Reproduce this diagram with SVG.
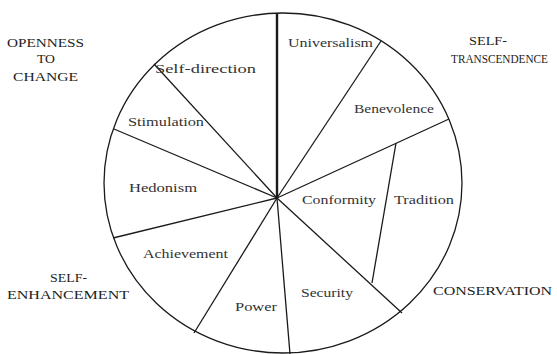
<svg xmlns="http://www.w3.org/2000/svg" width="557" height="354" viewBox="0 0 557 354">
<style>
.l{stroke:#1a1a1a;stroke-width:1.3;fill:none}
.t{font-family:'Liberation Serif','DejaVu Serif','Times New Roman',serif;font-size:13.5px;fill:#333}
.c{font-family:'Liberation Serif','DejaVu Serif','Times New Roman',serif;font-size:13px;fill:#222}
</style>
<rect width="557" height="354" fill="#fff"/>
<g id="circle"><ellipse cx="283" cy="183" rx="179" ry="170" class="l"/></g>
<g id="connectors">
<line x1="277" y1="198" x2="277" y2="13" stroke="#1a1a1a" stroke-width="2.4"/>
<line x1="277" y1="198" x2="381" y2="41" class="l"/>
<line x1="277" y1="198" x2="449" y2="119" class="l"/>
<line x1="396" y1="143" x2="372" y2="283" class="l"/>
<line x1="277" y1="198" x2="402" y2="313" class="l"/>
<line x1="277" y1="198" x2="290" y2="354" class="l"/>
<line x1="277" y1="198" x2="194" y2="333" class="l"/>
<line x1="277" y1="198" x2="113" y2="238" class="l"/>
<line x1="277" y1="198" x2="114" y2="129" class="l"/>
<line x1="277" y1="198" x2="154" y2="64" class="l"/>
</g>
<g id="universalism"><text class="t" x="288" y="47" textLength="85" lengthAdjust="spacingAndGlyphs">Universalism</text></g>
<g id="benevolence"><text class="t" x="354" y="113" textLength="80" lengthAdjust="spacingAndGlyphs">Benevolence</text></g>
<g id="tradition"><text class="t" x="394" y="204" textLength="60" lengthAdjust="spacingAndGlyphs">Tradition</text></g>
<g id="conformity"><text class="t" x="302" y="204" textLength="74" lengthAdjust="spacingAndGlyphs">Conformity</text></g>
<g id="security"><text class="t" x="301" y="297" textLength="52" lengthAdjust="spacingAndGlyphs">Security</text></g>
<g id="power"><text class="t" x="235" y="311" textLength="42" lengthAdjust="spacingAndGlyphs">Power</text></g>
<g id="achievement"><text class="t" x="143" y="258" textLength="85" lengthAdjust="spacingAndGlyphs">Achievement</text></g>
<g id="hedonism"><text class="t" x="129" y="192" textLength="68" lengthAdjust="spacingAndGlyphs">Hedonism</text></g>
<g id="stimulation"><text class="t" x="128" y="126" textLength="76" lengthAdjust="spacingAndGlyphs">Stimulation</text></g>
<g id="self-direction"><text class="t" x="155" y="73" textLength="101" lengthAdjust="spacingAndGlyphs">Self-direction</text></g>
<g id="openness">
<text class="c" x="7" y="47" textLength="77" lengthAdjust="spacingAndGlyphs">OPENNESS</text>
<text class="c" x="37" y="63" textLength="18" lengthAdjust="spacingAndGlyphs">TO</text>
<text class="c" x="13" y="81" textLength="65" lengthAdjust="spacingAndGlyphs">CHANGE</text>
</g>
<g id="self-transcendence">
<text class="c" x="469" y="45" textLength="38" lengthAdjust="spacingAndGlyphs">SELF-</text>
<text class="c" x="451" y="63" font-size="9" textLength="97" lengthAdjust="spacingAndGlyphs">TRANSCENDENCE</text>
</g>
<g id="self-enhancement">
<text class="c" x="50" y="282" textLength="37" lengthAdjust="spacingAndGlyphs">SELF-</text>
<text class="c" x="7" y="299" textLength="122" lengthAdjust="spacingAndGlyphs">ENHANCEMENT</text>
</g>
<g id="conservation"><text class="c" x="433" y="295" textLength="119" lengthAdjust="spacingAndGlyphs">CONSERVATION</text></g>
</svg>
